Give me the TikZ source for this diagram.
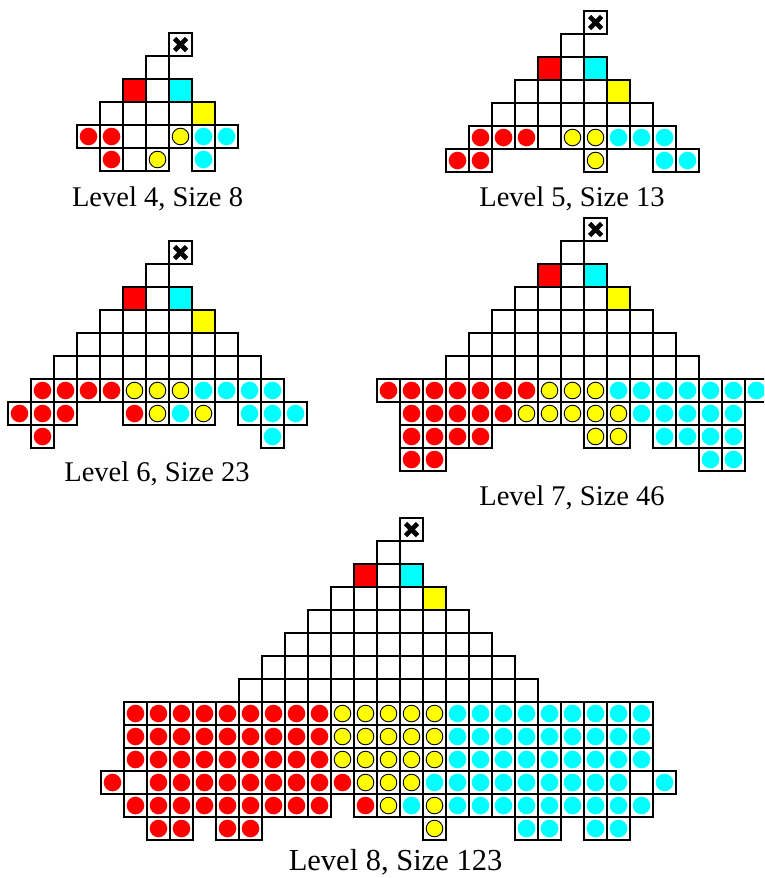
\documentclass[tikz,border=0pt]{standalone}
\usepackage{fontspec}
\setmainfont{Liberation Serif}
\definecolor{cellred}{RGB}{255,0,0}
\definecolor{cellcyan}{RGB}{0,255,255}
\definecolor{cellyellow}{RGB}{255,255,0}

\tikzset{
  cellbox/.style={draw=black,line width=1.1pt,fill=white},
  reddot/.style={fill=cellred},
  cyandot/.style={fill=cellcyan},
  yellowdot/.style={fill=cellyellow,draw=black,line width=0.9pt},
  startmark/.style={line width=4.6pt},
  lvllabel/.style={anchor=base,inner sep=0pt,font=\fontsize{28.5pt}{30pt}\selectfont},
}

% one cell of a row: o = empty, n = none, r/y/c = coloured dot
\newcommand\cello[2]{\draw[cellbox] (#1,#2) rectangle ++(1,1);}
\newcommand\celln[2]{}
\newcommand\cellr[2]{\cello{#1}{#2}\fill[reddot] (#1+0.5,#2+0.5) circle[radius=8.8pt];}
\newcommand\cellc[2]{\cello{#1}{#2}\fill[cyandot] (#1+0.5,#2+0.5) circle[radius=8.8pt];}
\newcommand\celly[2]{\cello{#1}{#2}\filldraw[yellowdot] (#1+0.5,#2+0.5) circle[radius=8.3pt];}

% row #1, first column #2, list of codes #3
\newcommand\cellrow[3]{%
  \foreach \t [count=\i from 0] in {#3}{%
    \pgfmathtruncatemacro\c{#2+\i}%
    \csname cell\t\endcsname{\c}{#1}%
  }}

% start cell, white triangle of #1 rows, three coloured squares
\newcommand\pyramid[1]{%
  \draw[cellbox] (0,0) rectangle ++(1,1);
  \draw[startmark] (0.5,0.5) +(-6pt,-6pt) -- +(6pt,6pt);
  \draw[startmark] (0.5,0.5) +(-6pt,6pt) -- +(6pt,-6pt);
  \foreach \r in {1,...,#1}{%
    \pgfmathtruncatemacro\cbeg{-\r}\pgfmathtruncatemacro\cend{\r-2}%
    \foreach \c in {\cbeg,...,\cend}{\cello{\c}{\r}}}
  \filldraw[cellbox,fill=cellred] (-2,2) rectangle ++(1,1);
  \filldraw[cellbox,fill=cellcyan] (0,2) rectangle ++(1,1);
  \filldraw[cellbox,fill=cellyellow] (1,3) rectangle ++(1,1);
}

\begin{document}
\begin{tikzpicture}[x=1pt,y=-1pt]
\useasboundingbox (0,0) rectangle (764,878);
\clip (0,0) rectangle (764,878);

% level 4
\begin{scope}[shift={(169,33)},x=23pt,y=-23pt]
\pyramid{3}
\cellrow{4}{-4}{r,r,o,o,y,c,c}
\cellrow{5}{-3}{r,o,y,n,c}
\end{scope}
\node[lvllabel] (lvl4) at (157.5,206.7) {Level 4, Size 8};

% level 5
\begin{scope}[shift={(584,11)},x=23pt,y=-23pt]
\pyramid{4}
\cellrow{5}{-5}{r,r,r,o,y,y,c,c,c}
\cellrow{6}{-6}{r,r,n,n,n,n,y,n,n,c,c}
\end{scope}
\node[lvllabel] (lvl5) at (572,206.7) {Level 5, Size 13};

% level 6
\begin{scope}[shift={(169,241)},x=23pt,y=-23pt]
\pyramid{5}
\cellrow{6}{-6}{r,r,r,r,y,y,y,c,c,c,c}
\cellrow{7}{-7}{r,r,r,n,n,r,y,c,y,n,c,c,c}
\cellrow{8}{-6}{r,n,n,n,n,n,n,n,n,n,c}
\end{scope}
\node[lvllabel] (lvl6) at (157,481.7) {Level 6, Size 23};

% level 7
\begin{scope}[shift={(584,218)},x=23pt,y=-23pt]
\pyramid{6}
\cellrow{7}{-9}{r,r,r,r,r,r,r,y,y,y,c,c,c,c,c,c,c}
\cellrow{8}{-8}{r,r,r,r,r,y,y,y,y,y,c,c,c,c,c}
\cellrow{9}{-8}{r,r,r,r,n,n,n,n,y,y,n,c,c,c,c}
\cellrow{10}{-8}{r,r,n,n,n,n,n,n,n,n,n,n,n,c,c}
\end{scope}
\node[lvllabel] (lvl7) at (572,505) {Level 7, Size 46};

% level 8
\begin{scope}[shift={(400,518)},x=23pt,y=-23pt]
\pyramid{7}
\foreach \rr in {8,9,10}{\cellrow{\rr}{-12}{r,r,r,r,r,r,r,r,r,y,y,y,y,y,c,c,c,c,c,c,c,c,c}}
\cellrow{11}{-13}{r,o,r,r,r,r,r,r,r,r,r,y,y,y,c,c,c,c,c,c,c,c,c,o,c}
\cellrow{12}{-12}{r,r,r,r,r,r,r,r,r,n,r,y,c,y,c,c,c,c,c,c,c,c,c}
\cellrow{13}{-11}{r,r,n,r,r,n,n,n,n,n,n,n,y,n,n,n,c,c,n,c,c}
\end{scope}
\node[lvllabel,font=\fontsize{30.5pt}{32pt}\selectfont] (lvl8) at (395.5,870.5) {Level 8, Size 123};
\end{tikzpicture}
\end{document}
